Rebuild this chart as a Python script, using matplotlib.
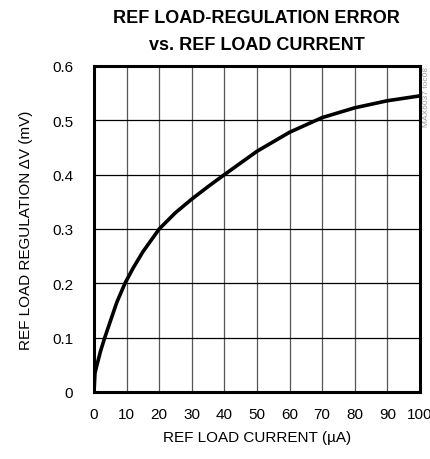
import matplotlib
matplotlib.use("Agg")
import matplotlib.pyplot as plt

# Data
current_uA = [0, 0.3, 1, 2, 3.3, 5, 7, 9.5, 12, 15, 20, 25, 30, 35, 40, 50, 60, 70, 80, 90, 100]
delta_v_mV = [0.0, 0.035, 0.052, 0.075, 0.10, 0.13, 0.165, 0.20, 0.228, 0.258, 0.30, 0.33, 0.355,
              0.378, 0.40, 0.443, 0.478, 0.505, 0.523, 0.536, 0.545]

x_ticks = [0, 10, 20, 30, 40, 50, 60, 70, 80, 90, 100]
y_ticks = [0, 0.1, 0.2, 0.3, 0.4, 0.5, 0.6]
y_tick_labels = ["0", "0.1", "0.2", "0.3", "0.4", "0.5", "0.6"]

plt.rcParams["font.family"] = ["Liberation Sans", "DejaVu Sans"]

fig = plt.figure(figsize=(4.3, 4.6), dpi=100)
ax = fig.add_axes([0.2186, 0.1457, 0.758, 0.7087])

ax.plot(current_uA, delta_v_mV, color="black", lw=2.6, solid_capstyle="butt", zorder=3)

ax.set_xlim(0, 100)
ax.set_ylim(0, 0.6)
ax.set_xticks(x_ticks)
ax.set_yticks(y_ticks)
ax.set_yticklabels(y_tick_labels)
ax.tick_params(length=0, labelsize=11)
ax.tick_params(axis="y", pad=15)
ax.tick_params(axis="x", pad=11)

for xv in x_ticks[1:-1]:
    ax.axvline(xv, color="#555555", lw=0.9, zorder=1)
for yv in y_ticks[1:-1]:
    ax.axhline(yv, color="black", lw=0.9, zorder=1)

for s in ax.spines.values():
    s.set_linewidth(2.2)

ax.set_xlabel("REF LOAD CURRENT (\u00b5A)", fontsize=11, labelpad=6)
ax.set_ylabel("REF LOAD REGULATION \u0394V (mV)", fontsize=11, labelpad=14)

fig.text(0.5965, 0.96, "REF LOAD-REGULATION ERROR", ha="center", va="center",
         fontsize=13, fontweight="bold")
fig.text(0.5965, 0.902, "vs. REF LOAD CURRENT", ha="center", va="center",
         fontsize=13, fontweight="bold")

fig.text(0.993, 0.79, "MAX6037 toc08", rotation=90, fontsize=6, color="#999999",
         ha="center", va="center")

fig.savefig("out.png", dpi=100)
